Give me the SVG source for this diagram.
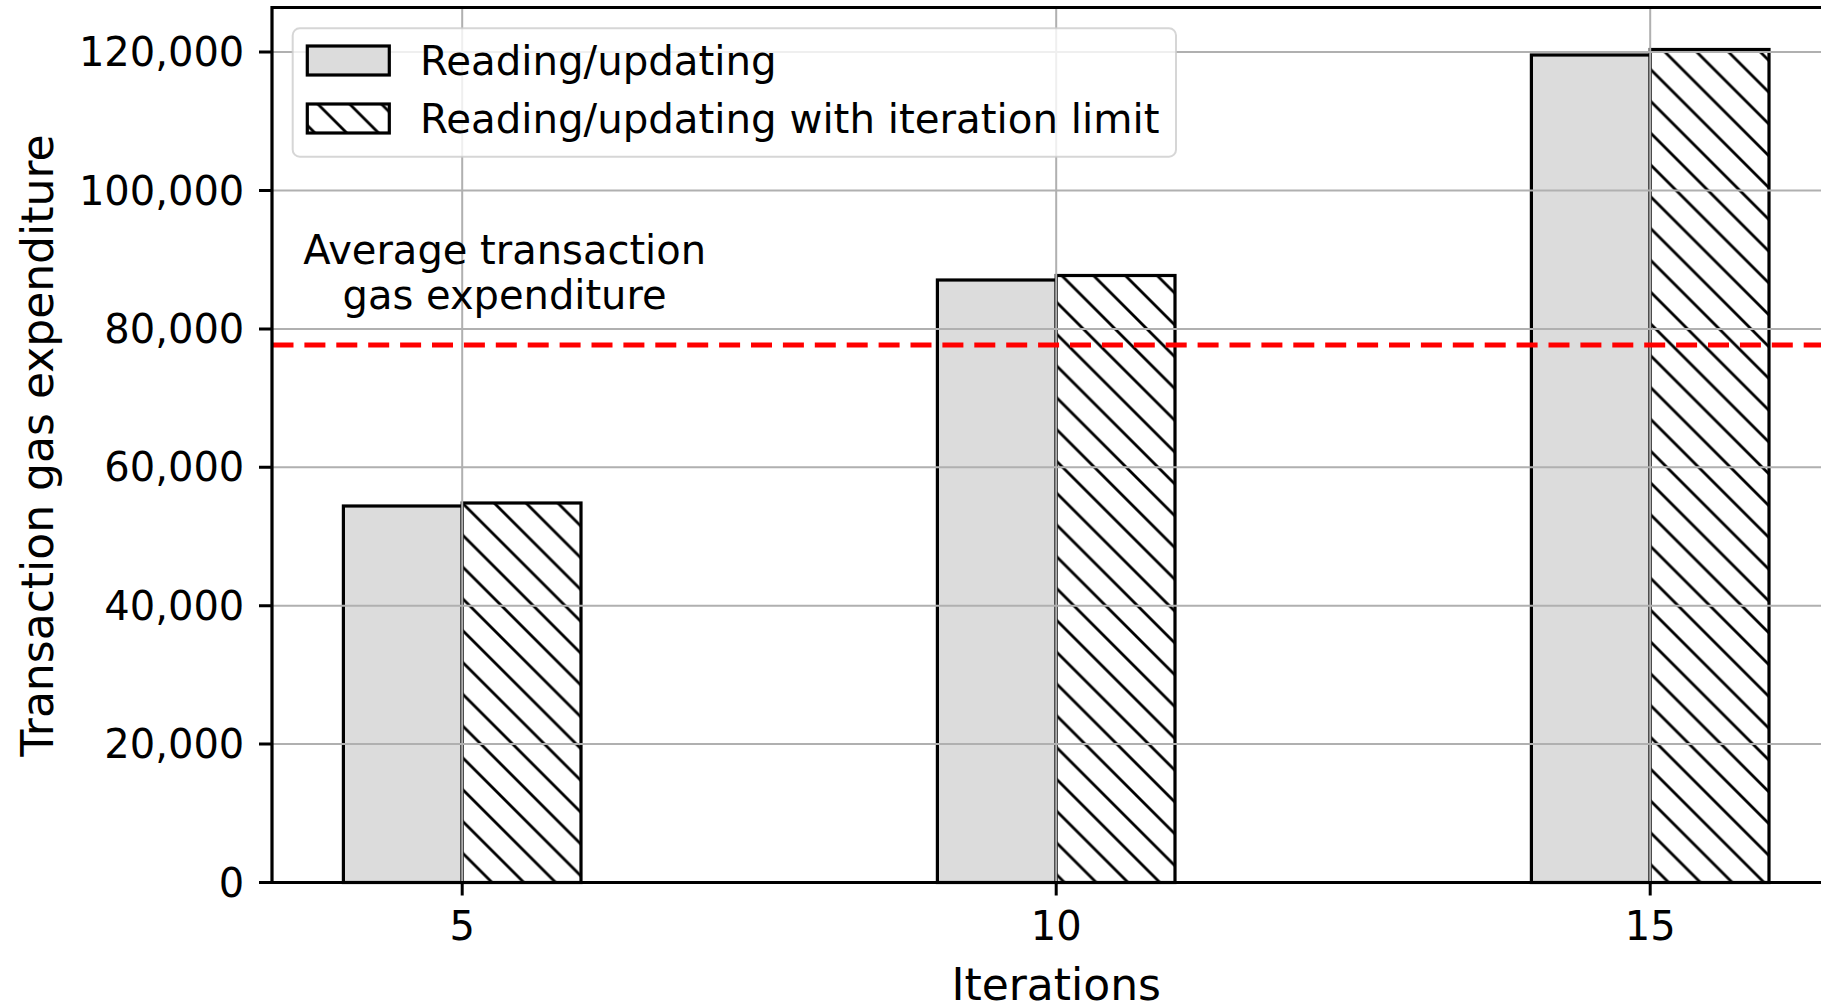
<svg xmlns="http://www.w3.org/2000/svg" width="1821" height="1004" viewBox="0 0 1821 1004">
<style>
text{font-family:"DejaVu Sans","Liberation Sans",sans-serif;fill:#000}
.tick{font-size:40px}
.leg{font-size:40.3px}
.lab{font-size:44px}
.grid{stroke:#b0b0b0;stroke-width:2;fill:none}
.bar{stroke:#000;stroke-width:3.2}
.gray{fill:#dcdcdc}
.spine{stroke:#000;stroke-width:3.2;fill:none;stroke-linecap:square}
.tk{stroke:#000;stroke-width:3}
</style>
<defs>
<pattern id="hatch" patternUnits="userSpaceOnUse" x="23" y="0" width="31.8" height="31.8">
<rect x="0" y="0" width="31.8" height="31.8" fill="#fff"/>
<path d="M-2,-2 L33.8,33.8 M29.8,-2 L33.8,2 M-2,29.8 L2,33.8" stroke="#000" stroke-width="2.8" fill="none"/>
</pattern>
</defs>
<rect width="1821" height="1004" fill="#fff"/>

<g id="bars">
<g id="bar-5-plain"><rect class="bar gray" x="343.4" y="506" width="118.8" height="376.5"/></g>
<g id="bar-5-limit"><rect class="bar" fill="url(#hatch)" x="462.2" y="503" width="118.8" height="379.5"/></g>
<g id="bar-10-plain"><rect class="bar gray" x="937.4" y="280" width="118.8" height="602.5"/></g>
<g id="bar-10-limit"><rect class="bar" fill="url(#hatch)" x="1056.2" y="275.5" width="118.8" height="607"/></g>
<g id="bar-15-plain"><rect class="bar gray" x="1531.4" y="55" width="118.8" height="827.5"/></g>
<g id="bar-15-limit"><rect class="bar" fill="url(#hatch)" x="1650.2" y="49.5" width="118.8" height="833"/></g>
</g>

<g id="grid">
<path class="grid" d="M272,744.1H1821M272,605.7H1821M272,467.3H1821M272,328.9H1821M272,190.5H1821M272,52.1H1821"/>
<path class="grid" d="M462.2,7.5V882.5M1056.2,7.5V882.5M1650.2,7.5V882.5"/>
</g>

<g id="avg-line">
<line x1="272" y1="345" x2="1821" y2="345" stroke="#ff0000" stroke-width="5" stroke-dasharray="21 10.9" stroke-dashoffset="-0.5"/>
</g>

<g id="annotation">
<text class="tick" x="504.6" y="264" text-anchor="middle">Average transaction</text>
<text class="tick" x="504.6" y="308.5" text-anchor="middle">gas expenditure</text>
</g>

<g id="axes">
<path class="spine" d="M272,7.5V882.5H1821M272,7.5H1821"/>
<path class="tk" d="M259,882.5H272M259,744.1H272M259,605.7H272M259,467.3H272M259,328.9H272M259,190.5H272M259,52.1H272"/>
<path class="tk" d="M462.2,882.5V895.5M1056.2,882.5V895.5M1650.2,882.5V895.5"/>
<g class="tick" text-anchor="end">
<text x="244.3" y="896.5">0</text>
<text x="244.3" y="758.1">20,000</text>
<text x="244.3" y="619.7">40,000</text>
<text x="244.3" y="481.3">60,000</text>
<text x="244.3" y="342.9">80,000</text>
<text x="244.3" y="204.5">100,000</text>
<text x="244.3" y="66.1">120,000</text>
</g>
<g class="tick" text-anchor="middle">
<text x="462.2" y="940">5</text>
<text x="1056.2" y="940">10</text>
<text x="1650.2" y="940">15</text>
</g>
<text class="lab" x="1056.2" y="999.5" text-anchor="middle">Iterations</text>
<text class="lab" transform="translate(52.5,445.5) rotate(-90)" x="0" y="0" text-anchor="middle">Transaction gas expenditure</text>
</g>

<g id="legend">
<rect x="292.7" y="28.3" width="883.3" height="128.4" rx="7" fill="#fff" fill-opacity="0.8" stroke="#cccccc" stroke-opacity="0.8" stroke-width="2"/>
<g id="legend-plain">
<rect class="bar gray" x="307.3" y="46" width="82" height="29"/>
<text class="leg" x="420" y="74.5">Reading/updating</text>
</g>
<g id="legend-limit">
<rect class="bar" fill="url(#hatch)" x="307.3" y="104" width="82" height="29"/>
<text class="leg" x="420" y="132.5">Reading/updating with iteration limit</text>
</g>
</g>
</svg>
